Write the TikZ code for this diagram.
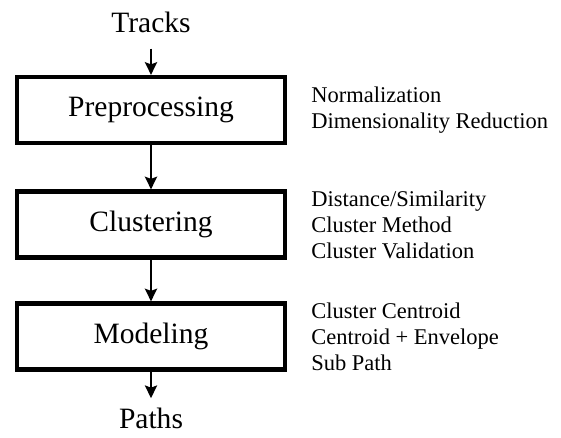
\documentclass[tikz,border=0pt]{standalone}
\usepackage{fontspec}
\setmainfont{Liberation Serif}
\usetikzlibrary{arrows.meta,positioning}

\begin{document}
\begin{tikzpicture}[x=0.025cm, y=-0.025cm,
    stage/.style={draw, line width=3.2pt, minimum width=6.69cm, minimum height=1.64cm, inner sep=0pt, font=\fontsize{21}{25}\selectfont},
    io/.style={inner sep=0pt, anchor=base, font=\fontsize{21}{25}\selectfont},
    note/.style={inner sep=0pt, anchor=west, align=left, font=\fontsize{16}{18.4}\selectfont},
    flow/.style={-{Stealth[length=9pt, width=8.5pt, inset=1.5pt]}, line width=2.1pt}]
    \useasboundingbox (0,0) rectangle (561,438);

    \node (tracks) [io] at (151,33) {Tracks};
    \node (prep) [stage] at (151,110) {Preprocessing};
    \node (clus) [stage] at (151,224.5) {Clustering};
    \node (model) [stage] at (151,336.5) {Modeling};
    \node (paths) [io] at (151,429) {Paths};

    % notes beside each stage
    \node (prepnote) [note] at (311,110) {Normalization\\Dimensionality Reduction};
    \node (clusnote) [note] at (311,224.5) {Distance/Similarity\\Cluster Method\\Cluster Validation};
    \node (modelnote) [note] at (311,336.5) {Cluster Centroid\\Centroid + Envelope\\Sub Path};

    \path [flow]
        (tracks) edge [shorten <=0.375cm] (prep)
        (prep) edge (clus)
        (clus) edge (model)
        (model) edge [shorten >=0.25cm] (paths);
\end{tikzpicture}
\end{document}
